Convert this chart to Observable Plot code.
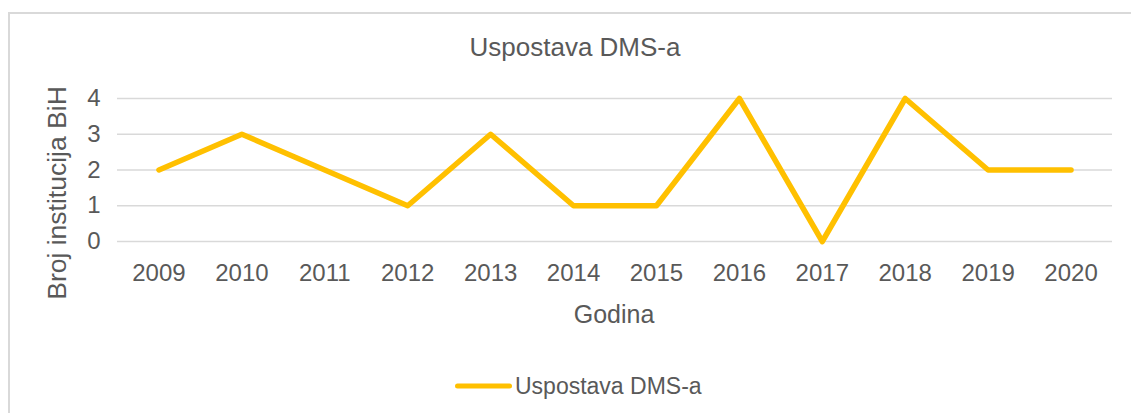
<!DOCTYPE html>
<html>
<head>
<meta charset="utf-8">
<script src="https://cdn.jsdelivr.net/npm/d3@7"></script>
<script src="https://cdn.jsdelivr.net/npm/@observablehq/plot@0.6"></script>
<style>
  html, body { margin: 0; padding: 0; background: #fff; overflow: hidden; width: 1131px; height: 413px; }
  body { position: relative; font-family: "Liberation Sans", Arial, Helvetica, sans-serif; color: #595959; }
  #frame { position: absolute; left: 8px; top: 12px; width: 1300px; height: 600px; border: 2px solid #d9d9d9; box-sizing: border-box; }
  #chart { position: absolute; left: 0; top: 0; }
  .title { position: absolute; left: 575px; top: 47px; transform: translate(-50%, -50%); font-size: 26px; white-space: nowrap; }
  .xlabel { position: absolute; left: 614px; top: 314px; transform: translate(-50%, -50%); font-size: 25px; white-space: nowrap; }
  .ylabel { position: absolute; left: 57px; top: 193px; transform: translate(-50%, -50%) rotate(-90deg); font-size: 26.5px; white-space: nowrap; }
  .legend { position: absolute; left: 455px; top: 386px; transform: translateY(-50%); display: flex; align-items: center; font-size: 23px; white-space: nowrap; }
  .swatch { display: inline-block; width: 57px; height: 5px; border-radius: 3px; background: #FFC000; margin-right: 3px; }
</style>
</head>
<body>
<div id="frame"></div>
<div id="chart"></div>
<div class="title">Uspostava DMS-a</div>
<div class="ylabel">Broj institucija BiH</div>
<div class="xlabel">Godina</div>
<div class="legend"><span class="swatch"></span><span>Uspostava DMS-a</span></div>
<script>
const years = ["2009","2010","2011","2012","2013","2014","2015","2016","2017","2018","2019","2020"];
const values = [2, 3, 2, 1, 3, 1, 1, 4, 0, 4, 2, 2];
const yTicks = [0, 1, 2, 3, 4];
const seriesName = "Uspostava DMS-a";

const data = years.map((y, i) => ({ year: y, value: values[i], series: seriesName }));

const chart = Plot.plot({
  width: 1131,
  height: 413,
  marginLeft: 117,
  marginRight: 19,
  marginTop: 98,
  marginBottom: 172,
  style: { background: "transparent", fontFamily: "'Liberation Sans', Arial, sans-serif", color: "#595959", overflow: "visible" },
  x: { type: "point", domain: years, padding: 0.5, round: false, label: null },
  y: { domain: [0, 4], ticks: yTicks, label: null },
  marks: [
    Plot.gridY(yTicks, { stroke: "#d9d9d9", strokeOpacity: 1, strokeWidth: 1.5 }),
    Plot.axisX({ tickSize: 0, tickPadding: 22, fontSize: 24, fill: "#595959", label: null }),
    Plot.axisY(yTicks, { tickSize: 0, tickPadding: 17, fontSize: 24, fill: "#595959", label: null, tickFormat: d => String(d) }),
    Plot.lineY(data, { x: "year", y: "value", stroke: "#FFC000", strokeWidth: 5.5, strokeLinejoin: "round", strokeLinecap: "round" })
  ]
});
document.getElementById("chart").appendChild(chart);
</script>
</body>
</html>
